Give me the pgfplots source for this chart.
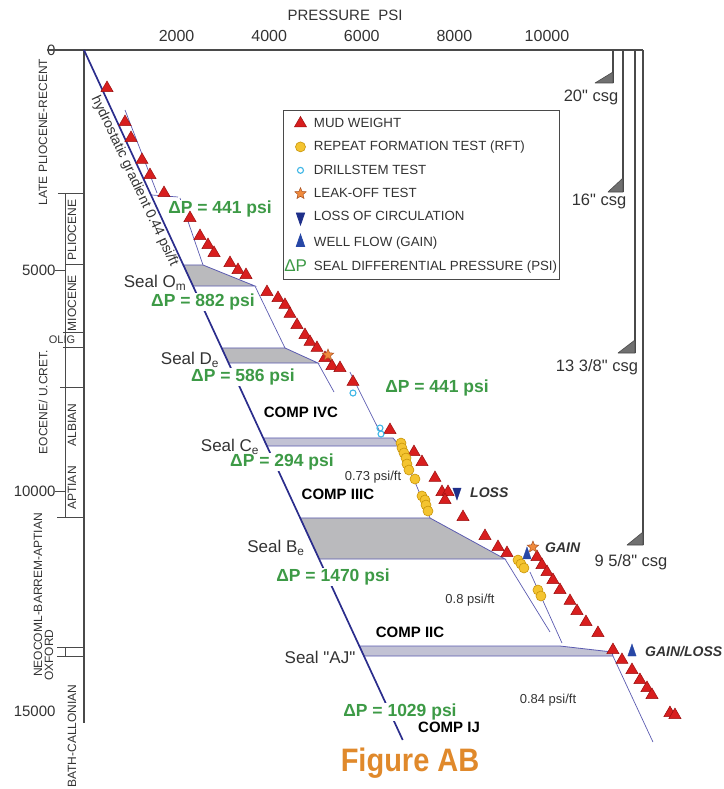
\documentclass[border=0pt]{standalone}
\usepackage{fontspec}
\setmainfont{Liberation Sans}
\usepackage{graphicx}
\usepackage{pgfplots}
\pgfplotsset{compat=1.18}
\usetikzlibrary{plotmarks}
\definecolor{navyline}{HTML}{2B2D8C}
\definecolor{thinline}{HTML}{5B5BB0}
\definecolor{sealgray}{HTML}{BABABD}
\definecolor{ajfill}{HTML}{C2C2D4}
\definecolor{mwred}{HTML}{D81E1E}
\definecolor{mwedge}{HTML}{9A0F0F}
\definecolor{rftfill}{HTML}{F4C430}
\definecolor{rftedge}{HTML}{C8950A}
\definecolor{dstcyan}{HTML}{3EB6E6}
\definecolor{lotfill}{HTML}{F08A3C}
\definecolor{lotedge}{HTML}{A85020}
\definecolor{lossblue}{HTML}{1E2F8A}
\definecolor{gainblue}{HTML}{2747A6}
\definecolor{dpgreen}{HTML}{3D9A46}
\definecolor{txtgray}{HTML}{333333}
\definecolor{axgray}{HTML}{4A4A4A}
\definecolor{shoegray}{HTML}{707070}
\definecolor{figorange}{HTML}{E0892B}
\newcommand\fs[1]{\fontsize{#1}{#1}\selectfont}
\pgfdeclareplotmark{fstar}{%
  \pgfpathmoveto{\pgfpointpolar{90}{\pgfplotmarksize}}%
  \pgfpathlineto{\pgfpointpolar{126}{0.45\pgfplotmarksize}}%
  \pgfpathlineto{\pgfpointpolar{162}{\pgfplotmarksize}}%
  \pgfpathlineto{\pgfpointpolar{198}{0.45\pgfplotmarksize}}%
  \pgfpathlineto{\pgfpointpolar{234}{\pgfplotmarksize}}%
  \pgfpathlineto{\pgfpointpolar{270}{0.45\pgfplotmarksize}}%
  \pgfpathlineto{\pgfpointpolar{306}{\pgfplotmarksize}}%
  \pgfpathlineto{\pgfpointpolar{342}{0.45\pgfplotmarksize}}%
  \pgfpathlineto{\pgfpointpolar{18}{\pgfplotmarksize}}%
  \pgfpathlineto{\pgfpointpolar{54}{0.45\pgfplotmarksize}}%
  \pgfpathclose\pgfusepathqfillstroke}
\begin{document}
\begin{tikzpicture}
\path[use as bounding box] (-84pt,50pt) rectangle (639pt,-739pt);
\begin{axis}[
  at={(0pt,0pt)}, anchor=north west,
  scale only axis, width=559pt, height=673pt,
  xmin=0, xmax=12074, ymin=0, ymax=15261, y dir=reverse,
  axis x line*=top, axis y line*=left,
  axis line style={draw=axgray, line width=1.3pt},
  scaled x ticks=false, scaled y ticks=false,
  xtick={2000,4000,6000,8000,10000},
  xticklabels={2000,4000,6000,8000,10000},
  ytick={0,5000,10000,15000},
  yticklabels={0,5000,10000,15000},
  major tick length=0pt,
  xticklabel style={font=\fs{16}, text=txtgray, yshift=5pt},
  yticklabel style={font=\fs{15}, text=txtgray, xshift=-25pt},
  clip=false,
  legend image code/.code={\path[draw=none, fill=none] (-5pt,0pt) -- (16pt,0pt);\draw[mark repeat=2,mark phase=2,#1] plot coordinates {(0pt,0pt)(9pt,0pt)(12pt,0pt)};},
  legend style={at={(axis cs:4298,1361)}, anchor=north west, draw=axgray, line width=0.8pt, fill=white, font=\fs{13.3}, text=txtgray, inner xsep=1pt, inner ysep=6pt, row sep=9.5pt, nodes={inner sep=1.5pt}, /tikz/every odd column/.append style={column sep=5pt}},
  legend cell align=left,
]
% ---- stratigraphic column lines
\addplot[forget plot, axgray, line width=1.3pt] coordinates {(-799,0)(0,0)};
\addplot[forget plot, axgray, line width=1pt] coordinates {(-410,3243)(-410,10612)};
\addplot[forget plot, axgray, line width=1pt] coordinates {(-562,3243)(0,3243)};
\addplot[forget plot, axgray, line width=1pt] coordinates {(-410,4875)(0,4875)};
\addplot[forget plot, axgray, line width=1pt] coordinates {(-454,6395)(0,6395)};
\addplot[forget plot, axgray, line width=1pt] coordinates {(-454,6735)(0,6735)};
\addplot[forget plot, axgray, line width=1pt] coordinates {(-518,7642)(0,7642)};
\addplot[forget plot, axgray, line width=1pt] coordinates {(-583,10612)(0,10612)};
\addplot[forget plot, axgray, line width=1pt] coordinates {(-583,13538)(0,13538)};
\addplot[forget plot, axgray, line width=1pt] coordinates {(-583,13764)(0,13764)};
\addplot[forget plot, axgray, line width=1pt] coordinates {(-410,13538)(-410,13764)};
\addplot[forget plot, axgray, line width=1pt] coordinates {(-626,5000)(-410,5000)};
\addplot[forget plot, axgray, line width=1pt] coordinates {(-626,10000)(-410,10000)};
% ---- casing
\addplot[forget plot, axgray, line width=1.3pt] coordinates {(11425,0)(11425,748)};
\addplot[forget plot, axgray, line width=1.3pt] coordinates {(11641,0)(11641,3220)};
\addplot[forget plot, axgray, line width=1.3pt] coordinates {(11900,0)(11900,6871)};
\addplot[forget plot, axgray, line width=1.3pt] coordinates {(12074,0)(12074,11225)};
\addplot[forget plot, fill=shoegray, draw=axgray, line width=0.6pt] coordinates {(11037,748)(11425,748)(11425,499)(11037,748)};
\addplot[forget plot, fill=shoegray, draw=axgray, line width=0.6pt] coordinates {(11317,3220)(11641,3220)(11641,2903)(11317,3220)};
\addplot[forget plot, fill=shoegray, draw=axgray, line width=0.6pt] coordinates {(11533,6871)(11900,6871)(11900,6576)(11533,6871)};
\addplot[forget plot, fill=shoegray, draw=axgray, line width=0.6pt] coordinates {(11728,11225)(12074,11225)(12074,10930)(11728,11225)};
% ---- seals
\addplot[forget plot, fill=sealgray, draw=thinline, line width=0.8pt] coordinates {(2145,4875)(2570,4875)(3693,5352)(2355,5352)(2145,4875)};
\addplot[forget plot, fill=sealgray, draw=thinline, line width=0.8pt] coordinates {(2973,6757)(4341,6757)(5054,7098)(3123,7098)(2973,6757)};
\addplot[forget plot, fill=ajfill, draw=thinline, line width=0.8pt] coordinates {(3871,8798)(6674,8798)(6825,8980)(3951,8980)(3871,8798)};
\addplot[forget plot, fill=sealgray, draw=thinline, line width=0.8pt] coordinates {(4669,10612)(7473,10612)(9093,11542)(5078,11542)(4669,10612)};
\addplot[forget plot, fill=ajfill, draw=thinline, line width=0.8pt] coordinates {(5947,13515)(10281,13515)(11404,13650)(11425,13742)(6046,13742)(5947,13515)};
% ---- pressure profile lines
\addplot[forget plot, thinline, line width=0.7pt] coordinates {(886,1361)(1577,3243)};
\addplot[forget plot, thinline, line width=0.7pt] coordinates {(1469,3288)(2030,3333)};
\addplot[forget plot, thinline, line width=0.7pt] coordinates {(2073,3356)(2570,4875)};
\addplot[forget plot, thinline, line width=0.7pt] coordinates {(3693,5352)(4341,6757)};
\addplot[forget plot, thinline, line width=0.7pt] coordinates {(5054,7098)(5400,7755)};
\addplot[forget plot, thinline, line width=0.7pt] coordinates {(5745,7302)(6393,8662)};
\addplot[forget plot, thinline, line width=0.7pt] coordinates {(6825,8980)(7473,10612)};
\addplot[forget plot, thinline, line width=0.7pt] coordinates {(9093,11542)(10065,13197)};
\addplot[forget plot, thinline, line width=0.7pt] coordinates {(9633,11837)(10324,13447)};
\addplot[forget plot, thinline, line width=0.7pt] coordinates {(11425,13742)(12289,15692)};
% ---- hydrostatic gradient
\addplot[forget plot, navyline, line width=1.7pt] coordinates {(0,0)(6884,15646)};
% ---- labels
\node[font=\fs{15}, text=txtgray] at (axis cs:5638,-794) {PRESSURE\ \ PSI};
\node[font=\fs{14}, text=txtgray, rotate=-64.8] at (axis cs:1090,2971) {hydrostatic gradient 0.44 psi/ft};
\node[font=\bfseries\fs{17.5}, text=dpgreen, fill=white, inner sep=1pt] at (axis cs:2938,3605) {ΔP = 441 psi};
\node[font=\bfseries\fs{17.5}, text=dpgreen, fill=white, inner sep=1pt] at (axis cs:2570,5714) {ΔP = 882 psi};
\node[font=\bfseries\fs{17.5}, text=dpgreen, fill=white, inner sep=1pt] at (axis cs:3434,7415) {ΔP = 586 psi};
\node[font=\bfseries\fs{17.5}, text=dpgreen, fill=white, inner sep=1pt] at (axis cs:7625,7664) {ΔP = 441 psi};
\node[font=\bfseries\fs{17.5}, text=dpgreen, fill=white, inner sep=1pt] at (axis cs:4277,9343) {ΔP = 294 psi};
\node[font=\bfseries\fs{17.5}, text=dpgreen, fill=white, inner sep=1pt] at (axis cs:5378,11950) {ΔP = 1470 psi};
\node[font=\bfseries\fs{17.5}, text=dpgreen, fill=white, inner sep=1pt] at (axis cs:6825,15011) {ΔP = 1029 psi};
\node[font=\fs{17}, text=txtgray] at (axis cs:1534,5283) {Seal O\textsubscript{m}};
\node[font=\fs{17}, text=txtgray] at (axis cs:2290,7030) {Seal D\textsubscript{e}};
\node[font=\fs{17}, text=txtgray] at (axis cs:3154,9002) {Seal C\textsubscript{e}};
\node[font=\fs{17}, text=txtgray] at (axis cs:4147,11293) {Seal B\textsubscript{e}};
\node[font=\fs{17}, text=txtgray] at (axis cs:5098,13764) {Seal \textquotedbl AJ\textquotedbl};
\node[font=\bfseries\fs{15}, text=black] at (axis cs:4687,8209) {COMP IVC};
\node[font=\bfseries\fs{15}, text=black] at (axis cs:5486,10068) {COMP IIIC};
\node[font=\bfseries\fs{15}, text=black] at (axis cs:7042,13197) {COMP IIC};
\node[font=\bfseries\fs{15}, text=black] at (axis cs:7884,15352) {COMP IJ};
\node[font=\fs{13}, text=txtgray] at (axis cs:6242,9683) {0.73 psi/ft};
\node[font=\fs{13}, text=txtgray] at (axis cs:8338,12472) {0.8 psi/ft};
\node[font=\fs{13}, text=txtgray] at (axis cs:10022,14739) {0.84 psi/ft};
\node[font=\bfseries\itshape\fs{14}, text=txtgray, anchor=west, inner sep=0pt] at (axis cs:8338,10045) {LOSS};
\node[font=\bfseries\itshape\fs{14}, text=txtgray, anchor=west, inner sep=0pt] at (axis cs:9957,11293) {GAIN};
\node[font=\bfseries\itshape\fs{14}, text=txtgray, anchor=west, inner sep=0pt] at (axis cs:12117,13651) {GAIN/LOSS};
\node[font=\fs{16.5}, text=txtgray] at (axis cs:10951,1066) {20\textquotedbl\ csg};
\node[font=\fs{16.5}, text=txtgray] at (axis cs:11124,3424) {16\textquotedbl\ csg};
\node[font=\fs{16.5}, text=txtgray] at (axis cs:11080,7188) {13 3/8\textquotedbl\ csg};
\node[font=\fs{16.5}, text=txtgray] at (axis cs:11815,11610) {9 5/8\textquotedbl\ csg};
\node[font=\bfseries\fs{29}, text=figorange] at (axis cs:7042,16168) {\scalebox{1}[1.12]{Figure AB}};
\node[font=\fs{12}, text=txtgray, rotate=90] at (axis cs:-886,1859) {LATE PLIOCENE-RECENT};
\node[font=\fs{12}, text=txtgray, rotate=90] at (axis cs:-259,4082) {PLIOCENE};
\node[font=\fs{12}, text=txtgray, rotate=90] at (axis cs:-259,5737) {MIOCENE};
\node[font=\fs{11}, text=txtgray] at (axis cs:-475,6576) {OLIG};
\node[font=\fs{12}, text=txtgray, rotate=90] at (axis cs:-886,7982) {EOCENE/ U.CRET.};
\node[font=\fs{12}, text=txtgray, rotate=90] at (axis cs:-259,8504) {ALBIAN};
\node[font=\fs{12}, text=txtgray, rotate=90] at (axis cs:-259,9932) {APTIAN};
\node[font=\fs{12}, text=txtgray, rotate=90] at (axis cs:-994,12358) {NEOCOML-BARREM-APTIAN};
\node[font=\fs{12}, text=txtgray, rotate=90] at (axis cs:-756,13719) {OXFORD};
\node[font=\fs{12}, text=txtgray, rotate=90] at (axis cs:-259,15556) {BATH-CALLONIAN};
% ---- data markers
\addplot[only marks, mark=triangle*, mark size=7pt, mark options={draw=mwedge, fill=mwred, line width=0.5pt}] coordinates {
(497,862)(886,1633)(1015,1996)(1253,2494)(1425,2835)(1728,3243)(2289,3810)(2505,4218)(2678,4422)(2808,4603)
(3153,4830)(3326,4989)(3499,5102)(3952,5488)(4190,5624)(4341,5782)(4449,5986)(4600,6236)(4773,6463)(4881,6621)
(5032,6757)(5205,6984)(5356,7166)(5529,7211)(5810,7528)(6609,8617)(7127,9116)(7300,9343)(7581,9705)(7732,10023)
(7862,10023)(7797,10204)(8186,10590)(8661,11021)(8942,11270)(9136,11406)(9784,11497)(9892,11678)(10000,11837)(10129,12018)
(10281,12245)(10497,12494)(10648,12721)(10842,12971)(11101,13220)(11425,13606)(11620,13832)(11836,14059)(12008,14286)(12160,14467)
(12268,14626)(12656,15034)(12764,15080)};
\addlegendentry{MUD WEIGHT}
\addplot[only marks, mark=*, mark size=5pt, mark options={draw=rftedge, fill=rftfill, line width=0.6pt}] coordinates {
(6847,8912)(6868,9025)(6911,9138)(6955,9252)(6976,9388)(7019,9524)(7149,9728)(7300,10113)(7365,10204)(7387,10318)
(7430,10454)(9374,11565)(9438,11655)(9503,11746)(9805,12245)(9870,12381)};
\addlegendentry{REPEAT FORMATION TEST (RFT)}
\addplot[only marks, mark=o, mark size=3pt, mark options={draw=dstcyan, line width=1.1pt}] coordinates {
(5810,7778)(6393,8572)(6415,8708)};
\addlegendentry{DRILLSTEM TEST}
\addplot[only marks, mark=fstar, mark size=6pt, mark options={draw=lotedge, fill=lotfill, line width=0.5pt}] coordinates {
(5270,6916)(9697,11270)};
\addlegendentry{LEAK-OFF TEST}
\addplot[only marks, mark=triangle*, mark size=8pt, mark options={rotate=180, xscale=0.6, draw=lossblue, fill=lossblue}] coordinates {
(8056,10023)};
\addlegendentry{LOSS OF CIRCULATION}
\addplot[only marks, mark=triangle*, mark size=8pt, mark options={xscale=0.6, draw=gainblue, fill=gainblue}] coordinates {
(9568,11451)(11836,13651)};
\addlegendentry{WELL FLOW (GAIN)}
\addlegendimage{legend image code/.code={\path[draw=none, fill=none] (-5pt,0pt) -- (16pt,0pt);\node[text=dpgreen, font=\fs{17}, inner sep=0pt, anchor=east, draw=none, fill=none] at (16pt,0pt) {ΔP};}}
\addlegendentry{SEAL DIFFERENTIAL PRESSURE (PSI)}
\end{axis}
\end{tikzpicture}
\end{document}
